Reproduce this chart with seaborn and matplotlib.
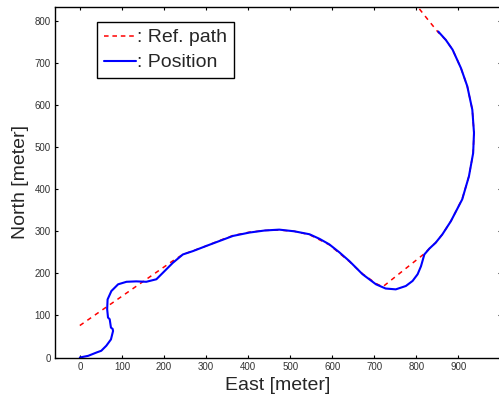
import matplotlib
matplotlib.use("Agg")
import matplotlib.pyplot as plt
import seaborn as sns
import pandas as pd
from matplotlib.lines import Line2D

# Reference path (red dashed)
ref_east = [0, 220, 245, 270, 300, 332, 364, 403, 440, 474, 510, 546, 593, 641, 672,
            704, 720, 818, 831, 846, 862, 882, 909, 925, 935, 937, 933, 921, 906, 886,
            870, 852, 830, 803]
ref_north = [76, 229, 245, 254, 265, 278, 290, 298, 302, 303, 300, 292, 268, 228, 199,
             176, 168, 246, 259, 273, 293, 324, 377, 431, 486, 534, 589, 645, 688, 732,
             755, 773, 800, 834]

# Measured position (blue)
pos_east = [0, 20, 40, 51, 63, 74, 79, 78, 74, 71, 67, 65, 66, 75, 91, 111, 134, 158,
            182, 202, 221, 245, 269, 300, 332, 364, 403, 440, 474, 510, 546, 570, 593,
            617, 641, 672, 704, 727, 751, 775, 791, 803, 811, 819, 831, 846, 862, 882,
            909, 925, 935, 937, 933, 921, 906, 886, 870, 852]
pos_north = [0, 4, 12, 16, 28, 43, 63, 68, 71, 91, 95, 115, 138, 158, 174, 180, 181, 180,
             186, 206, 225, 245, 253, 265, 277, 289, 297, 302, 304, 300, 293, 282, 269,
             250, 229, 198, 174, 164, 162, 170, 182, 198, 217, 245, 259, 273, 293, 324,
             376, 431, 486, 534, 589, 645, 688, 732, 755, 775]

x_ticks = [0, 100, 200, 300, 400, 500, 600, 700, 800, 900]
y_ticks = [0, 100, 200, 300, 400, 500, 600, 700, 800]

sns.set_style("ticks")
plt.rcParams['font.family'] = ['Liberation Sans', 'DejaVu Sans']

fig = plt.figure(figsize=(4.99, 3.98), dpi=100)
ax = fig.add_axes([55 / 499, 40.5 / 398, 445.5 / 499, 350.8 / 398])

ref_df = pd.DataFrame({"east": ref_east, "north": ref_north})
pos_df = pd.DataFrame({"east": pos_east, "north": pos_north})

sns.lineplot(data=ref_df, x="east", y="north", sort=False, estimator=None, ax=ax,
             color="red", linewidth=1.1, linestyle=(0, (3, 3)))
sns.lineplot(data=pos_df, x="east", y="north", sort=False, estimator=None, ax=ax,
             color="blue", linewidth=1.5)

ax.set_xlim(-59, 1000)
ax.set_ylim(0, 834)
ax.set_xticks(x_ticks)
ax.set_yticks(y_ticks)
ax.tick_params(direction="in", length=2.5, width=0.8, top=True, right=True,
               labelsize=7, pad=3, colors="black", labelcolor="#333333")
for s in ax.spines.values():
    s.set_linewidth(1.0)
    s.set_color("black")

ax.set_xlabel("East [meter]", fontsize=14, labelpad=3.5)
ax.set_ylabel("North [meter]", fontsize=14, labelpad=4)

handles = [Line2D([], [], color="red", linewidth=1.1, linestyle=(0, (3, 2.5))),
           Line2D([], [], color="blue", linewidth=1.5)]
leg = ax.legend(handles, [": Ref. path", ": Position"], loc="upper left",
                bbox_to_anchor=((97 - 55) / 445.5, (357.5 - 22) / 350.8),
                borderaxespad=0, fontsize=14, handlelength=1.65, handletextpad=0.05,
                borderpad=0.35, labelspacing=0.38, fancybox=False, framealpha=1,
                edgecolor="black")
leg.get_frame().set_linewidth(1.0)

fig.savefig("out.png", dpi=100)
